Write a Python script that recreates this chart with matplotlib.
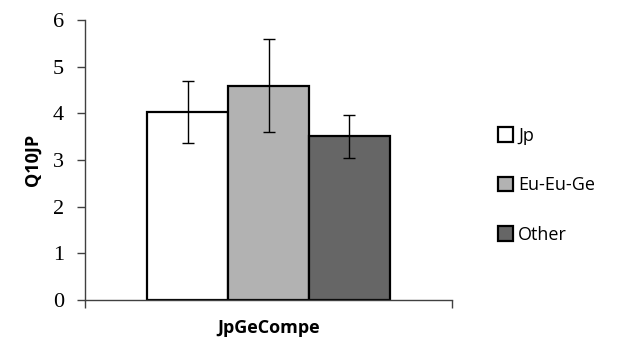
import matplotlib
matplotlib.use("Agg")
import matplotlib.pyplot as plt

# data
groups = ["Jp", "Eu-Eu-Ge", "Other"]
means = [4.03, 4.58, 3.51]
err_low = [3.37, 3.59, 3.04]
err_high = [4.69, 5.59, 3.97]
colors = ["#ffffff", "#b2b2b2", "#666666"]

yticks = [0, 1, 2, 3, 4, 5, 6]
xlabel = "JpGeCompe"
ylabel = "Q10JP"

fig = plt.figure(figsize=(6.17, 3.45), dpi=100)
ax = fig.add_axes([85 / 617, 1 - 300 / 345, (452 - 85) / 617, 280 / 345])

bw = 0.2207
xs = [-bw, 0, bw]
yerr = [[m - lo for m, lo in zip(means, err_low)],
        [hi - m for m, hi in zip(means, err_high)]]

for x, m, c, g in zip(xs, means, colors, groups):
    ax.bar(x, m, width=bw, color=c, edgecolor="black", linewidth=1.6, label=g, zorder=2)
ax.errorbar(xs, means, yerr=yerr, fmt="none", ecolor="black", elinewidth=1,
            capsize=4, capthick=1, zorder=3)

ax.set_xlim(-0.5, 0.5)
ax.set_ylim(0, 6)
ax.set_yticks(yticks)
ax.set_yticklabels([str(t) for t in yticks])
for lab in ax.get_yticklabels():
    lab.set_fontfamily(["Liberation Serif", "DejaVu Serif"])
    lab.set_fontsize(16)
ax.set_xticks([-0.5, 0.5])
ax.set_xticklabels([])
ax.tick_params(axis="y", direction="out", length=6, width=1, color="#404040", pad=9)
ax.tick_params(axis="x", direction="out", length=6, width=1, color="#404040")

for s in ["top", "right"]:
    ax.spines[s].set_visible(False)
for s in ["left", "bottom"]:
    ax.spines[s].set_color("#404040")
    ax.spines[s].set_linewidth(1)

ax.set_xlabel(xlabel, fontfamily="Open Sans", fontweight="bold", fontsize=13, labelpad=4)
ax.set_ylabel(ylabel, fontfamily="Open Sans", fontweight="bold", fontsize=13, labelpad=8)

leg = ax.legend(loc="center left", bbox_to_anchor=(1.08, 0.41), frameon=False,
                handlelength=0.85, handleheight=0.85, handletextpad=0.3,
                labelspacing=1.75, prop={"family": "Open Sans", "size": 13})

fig.savefig("out.png", dpi=100)
